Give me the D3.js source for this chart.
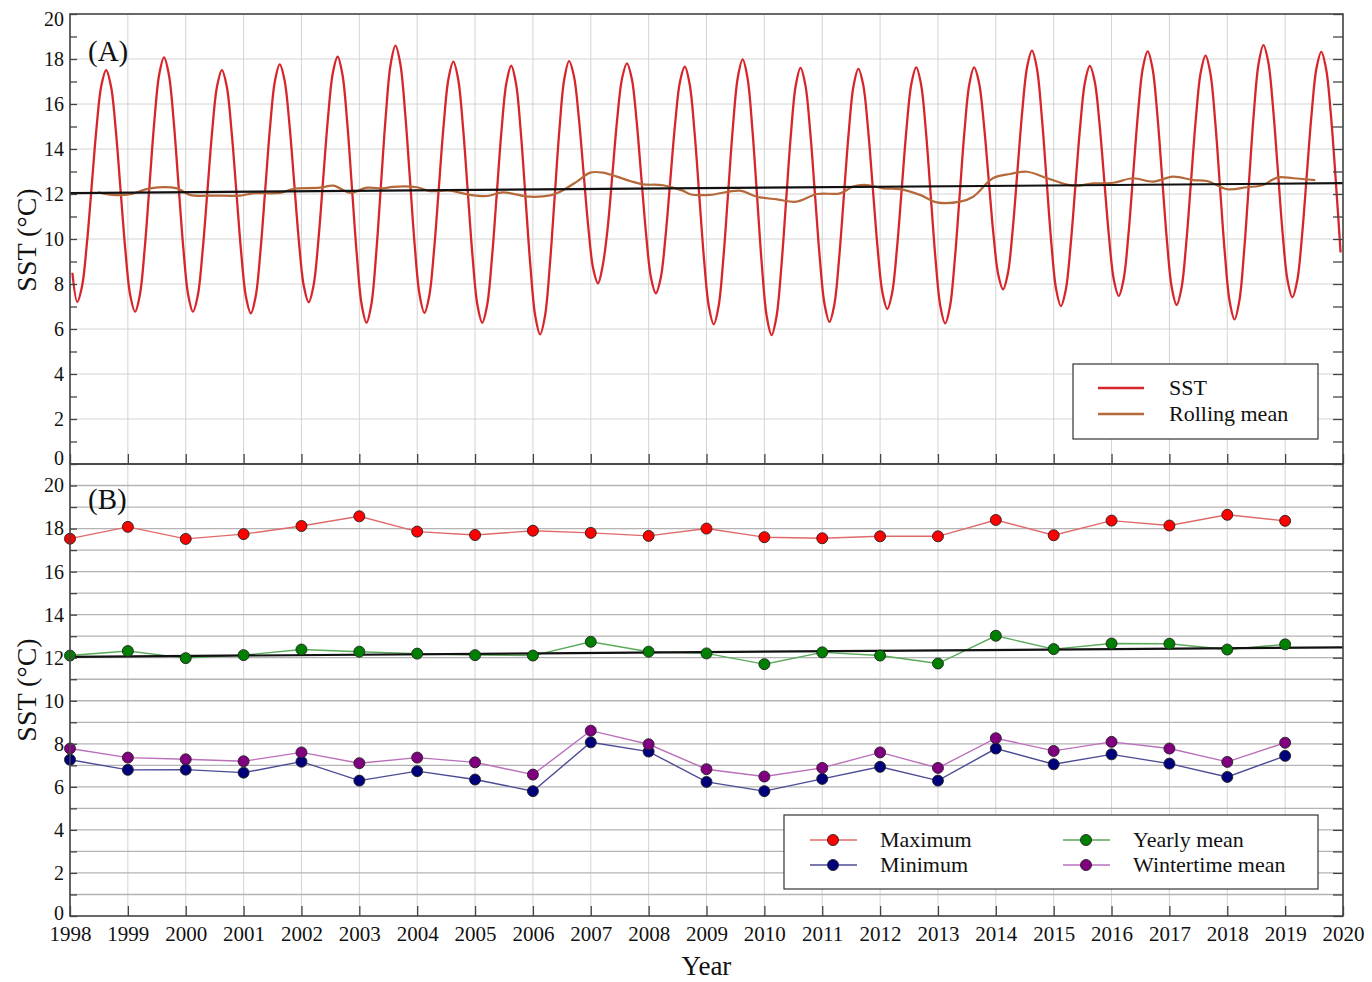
<!DOCTYPE html>
<html>
<head>
<meta charset="utf-8">
<script src="https://cdn.jsdelivr.net/npm/d3@7"></script>
<style>
body { margin: 0; background: #fff; }
text { font-family: "Liberation Serif", "Times New Roman", serif; fill: #111; }
</style>
</head>
<body>
<div id="chart"></div>
<script>
// monthly SST (°C), one row per year 1998..2019, Jan..Dec
var sstMonthly = [
	[8.50, 7.21, 7.90, 9.79, 12.36, 14.94, 16.82, 17.51, 16.79, 14.83, 12.14, 9.46],
	[7.49, 6.77, 7.53, 9.60, 12.42, 15.25, 17.31, 18.07, 17.31, 15.25, 12.42, 9.60],
	[7.53, 6.77, 7.49, 9.46, 12.14, 14.83, 16.79, 17.51, 16.79, 14.81, 12.11, 9.40],
	[7.42, 6.70, 7.44, 9.47, 12.23, 15.00, 17.02, 17.76, 17.05, 15.12, 12.48, 9.83],
	[7.90, 7.19, 7.92, 9.92, 12.65, 15.37, 17.37, 18.10, 17.31, 15.15, 12.19, 9.24],
	[7.07, 6.28, 7.10, 9.36, 12.44, 15.51, 17.77, 18.59, 17.79, 15.62, 12.66, 9.69],
	[7.52, 6.72, 7.47, 9.51, 12.30, 15.09, 17.13, 17.88, 17.10, 14.98, 12.08, 9.18],
	[7.06, 6.28, 7.05, 9.14, 11.99, 14.85, 16.93, 17.70, 16.90, 14.72, 11.73, 8.75],
	[6.56, 5.76, 6.57, 8.80, 11.84, 14.87, 17.10, 17.91, 17.25, 15.44, 12.97, 10.50],
	[8.69, 8.03, 8.85, 10.48, 12.92, 15.37, 17.15, 17.81, 17.13, 15.26, 12.70, 10.15],
	[8.27, 7.59, 8.26, 10.11, 12.63, 15.14, 16.99, 17.66, 16.89, 14.80, 11.94, 9.07],
	[6.98, 6.21, 7.00, 9.15, 12.10, 15.04, 17.19, 17.98, 17.16, 14.92, 11.86, 8.79],
	[6.55, 5.73, 6.53, 8.70, 11.67, 14.64, 16.81, 17.61, 16.85, 14.79, 11.97, 9.14],
	[7.08, 6.32, 7.07, 9.13, 11.94, 14.75, 16.81, 17.56, 16.85, 14.89, 12.23, 9.56],
	[7.61, 6.89, 7.61, 9.58, 12.26, 14.95, 16.91, 17.63, 16.87, 14.79, 11.94, 9.10],
	[7.01, 6.25, 7.01, 9.10, 11.94, 14.79, 16.87, 17.63, 16.97, 15.16, 12.70, 10.23],
	[8.42, 7.76, 8.47, 10.41, 13.07, 15.72, 17.66, 18.37, 17.61, 15.53, 12.70, 9.86],
	[7.78, 7.02, 7.73, 9.69, 12.36, 15.02, 16.98, 17.69, 17.01, 15.14, 12.58, 10.03],
	[8.16, 7.47, 8.20, 10.19, 12.91, 15.62, 17.61, 18.34, 17.58, 15.52, 12.71, 9.89],
	[7.83, 7.07, 7.81, 9.84, 12.61, 15.38, 17.41, 18.15, 17.36, 15.22, 12.29, 9.36],
	[7.22, 6.43, 7.25, 9.48, 12.53, 15.57, 17.80, 18.62, 17.87, 15.82, 13.02, 10.21],
	[8.16, 7.41, 8.14, 10.14, 12.87, 15.59, 17.59, 18.32, 17.55, 15.50, 12.60, 9.40]
];

// 12-month rolling mean, read at irregular times (decimal year)
var rollTime = [1998.49, 1998.74, 1999.04, 1999.38, 1999.85, 2000.07, 2000.50, 2000.94, 2001.16, 2001.63,
	2001.85, 2002.32, 2002.55, 2002.84, 2003.13, 2003.41, 2003.58, 2004.00, 2004.22, 2004.57,
	2004.91, 2005.21, 2005.48, 2005.95, 2006.30, 2006.47, 2006.76, 2006.99, 2007.21, 2007.45,
	2007.68, 2007.90, 2008.25, 2008.59, 2008.72, 2009.06, 2009.58, 2009.87, 2010.22, 2010.56,
	2010.91, 2011.31, 2011.53, 2011.77, 2012.05, 2012.34, 2012.69, 2012.98, 2013.38, 2013.61,
	2013.95, 2014.25, 2014.54, 2014.89, 2015.33, 2015.68, 2016.03, 2016.37, 2016.72, 2017.06,
	2017.41, 2017.65, 2018.00, 2018.34, 2018.62, 2018.86, 2019.14, 2019.52];
var rollValue = [12.07, 11.96, 11.99, 12.25, 12.25, 11.96, 11.93, 11.93, 12.03, 12.05,
	12.22, 12.28, 12.37, 12.06, 12.28, 12.25, 12.32, 12.30, 12.13, 12.15,
	11.96, 11.91, 12.07, 11.88, 11.94, 12.10, 12.55, 12.95, 12.95, 12.77,
	12.58, 12.43, 12.39, 12.15, 11.99, 11.96, 12.15, 11.88, 11.76, 11.66,
	12.00, 12.03, 12.33, 12.40, 12.25, 12.22, 11.96, 11.63, 11.66, 11.88,
	12.70, 12.89, 12.99, 12.70, 12.37, 12.47, 12.50, 12.70, 12.55, 12.77,
	12.62, 12.58, 12.21, 12.30, 12.40, 12.73, 12.70, 12.62];

// yearly statistics 1998..2019
var years       = d3.range(1998, 2020);
var maxValues   = [17.53, 18.08, 17.52, 17.74, 18.12, 18.57, 17.86, 17.70, 17.90, 17.80, 17.66,
	18.00, 17.60, 17.55, 17.64, 17.64, 18.40, 17.69, 18.37, 18.14, 18.64, 18.36];
var minValues   = [7.26, 6.79, 6.80, 6.66, 7.17, 6.29, 6.73, 6.34, 5.80, 8.07, 7.64,
	6.23, 5.80, 6.37, 6.93, 6.29, 7.78, 7.05, 7.51, 7.08, 6.46, 7.44];
var meanValues  = [12.10, 12.31, 11.98, 12.12, 12.38, 12.28, 12.19, 12.12, 12.10, 12.74, 12.28,
	12.20, 11.70, 12.25, 12.10, 11.73, 13.02, 12.40, 12.66, 12.65, 12.38, 12.62];
var winterValues = [7.78, 7.36, 7.28, 7.19, 7.60, 7.10, 7.36, 7.14, 6.57, 8.61, 7.98,
	6.82, 6.48, 6.88, 7.60, 6.88, 8.26, 7.67, 8.09, 7.78, 7.16, 8.05];

// linear trend, value at 1998 and 2020
var trendYears  = [1998, 2020];
var trendValues = [12.04, 12.48];

var xTickYears = d3.range(1998, 2021);
var yLabelTicks = d3.range(0, 21, 2);

var W = 1372, H = 982;
var plotL = 70, plotR = 1343;
var panelA = {top: 14, bottom: 464};
var panelB = {top: 464, bottom: 916};

var svg = d3.select('#chart').append('svg')
	.attr('width', W)
	.attr('height', H);

var x  = d3.scaleLinear().domain([1998, 2020]).range([plotL, plotR]);
var yA = d3.scaleLinear().domain([0, 20]).range([panelA.bottom, panelA.top]);
var yB = d3.scaleLinear().domain([0, 21]).range([panelB.bottom, panelB.top]);

var sstPoints = [];
sstMonthly.forEach(function(row, i) {
	row.forEach(function(v, m) {
		sstPoints.push({t: years[i] + (m + 0.5) / 12, v: v});
	});
});
var rollPoints = rollTime.map(function(t, i) { return {t: t, v: rollValue[i]}; });

function drawGrid(y, hValues, hColor, hWidth) {
	var g = svg.append('g').attr('class', 'grid');
	g.selectAll('.vgrid')
		.data(xTickYears)
		.enter().append('line')
		.attr('x1', function(d) { return x(d); })
		.attr('x2', function(d) { return x(d); })
		.attr('y1', y.range()[0])
		.attr('y2', y.range()[1])
		.attr('stroke', '#d4d4d4')
		.attr('stroke-width', 1);
	g.selectAll('.hgrid')
		.data(hValues)
		.enter().append('line')
		.attr('x1', plotL)
		.attr('x2', plotR)
		.attr('y1', function(d) { return y(d); })
		.attr('y2', function(d) { return y(d); })
		.attr('stroke', hColor)
		.attr('stroke-width', hWidth);
}

function drawFrame(y, bottom, labelShift) {
	// inward minor ticks on left / right / bottom
	svg.append('g')
		.attr('transform', 'translate(' + plotL + ',0)')
		.call(d3.axisRight(y).tickValues(d3.range(0, 21)).tickSize(7).tickFormat(''))
		.call(function(g) { g.select('.domain').remove(); });
	svg.append('g')
		.attr('transform', 'translate(' + plotR + ',0)')
		.call(d3.axisLeft(y).tickValues(d3.range(0, 21)).tickSize(10).tickFormat(''))
		.call(function(g) { g.select('.domain').remove(); });
	svg.append('g')
		.attr('transform', 'translate(0,' + bottom + ')')
		.call(d3.axisTop(x).tickValues(xTickYears).tickSize(10).tickFormat(''))
		.call(function(g) { g.select('.domain').remove(); });
	svg.selectAll('.tick line').attr('stroke', '#444').attr('stroke-width', 1.3);

	var lab = svg.append('g')
		.attr('transform', 'translate(' + plotL + ',0)')
		.call(d3.axisLeft(y).tickValues(yLabelTicks).tickSize(0).tickPadding(6).tickFormat(d3.format('d')));
	lab.select('.domain').remove();
	lab.selectAll('text')
		.style('font-size', '20px')
		.attr('font-family', null)
		.attr('dy', function(d) { return labelShift && labelShift[d] ? (0.32 + labelShift[d] / 20) + 'em' : '0.32em'; });

	svg.append('rect')
		.attr('x', plotL)
		.attr('y', y.range()[1])
		.attr('width', plotR - plotL)
		.attr('height', y.range()[0] - y.range()[1])
		.attr('fill', 'none')
		.attr('stroke', '#444')
		.attr('stroke-width', 1.6);
}

// ---------- panel A ----------
drawGrid(yA, d3.range(2, 20, 2), '#d4d4d4', 1);

var lineA = d3.line()
	.x(function(d) { return x(d.t); })
	.y(function(d) { return yA(d.v); })
	.curve(d3.curveCatmullRom);

svg.append('path')
	.datum(sstPoints)
	.attr('d', lineA)
	.attr('fill', 'none')
	.attr('stroke', '#d7262b')
	.attr('stroke-width', 2.3);

svg.append('path')
	.datum(rollPoints)
	.attr('d', lineA)
	.attr('fill', 'none')
	.attr('stroke', '#b5683a')
	.attr('stroke-width', 2.2);

svg.append('line')
	.attr('x1', x(trendYears[0])).attr('x2', x(trendYears[1]))
	.attr('y1', yA(trendValues[0])).attr('y2', yA(trendValues[1]))
	.attr('stroke', '#111')
	.attr('stroke-width', 2.2);

drawFrame(yA, panelA.bottom, {20: 5, 0: -6});

svg.append('text')
	.attr('x', 88).attr('y', 61)
	.style('font-size', '29px')
	.text('(A)');

// legend A
var legA = svg.append('g');
legA.append('rect')
	.attr('x', 1073).attr('y', 364).attr('width', 245).attr('height', 75)
	.attr('fill', '#fff').attr('stroke', '#333').attr('stroke-width', 1.2);
[{label: 'SST', color: '#d7262b'}, {label: 'Rolling mean', color: '#b5683a'}].forEach(function(d, i) {
	var yy = 388 + i * 26;
	legA.append('line')
		.attr('x1', 1098).attr('x2', 1144).attr('y1', yy).attr('y2', yy)
		.attr('stroke', d.color).attr('stroke-width', 2.3);
	legA.append('text')
		.attr('x', 1169).attr('y', yy + 7)
		.style('font-size', '22px')
		.text(d.label);
});

// ---------- panel B ----------
drawGrid(yB, d3.range(1, 21), '#b4b4b4', 1.3);

var series = [
	{label: 'Maximum',         values: maxValues,    line: '#e06a6a', fill: '#ff0000'},
	{label: 'Minimum',         values: minValues,    line: '#4b4b95', fill: '#00007a'},
	{label: 'Yearly mean',     values: meanValues,   line: '#5aaa5a', fill: '#008000'},
	{label: 'Wintertime mean', values: winterValues, line: '#bb6fbb', fill: '#800080'}
];

var lineB = d3.line()
	.x(function(d) { return x(d.t); })
	.y(function(d) { return yB(d.v); });

series.forEach(function(s) {
	var pts = years.map(function(yr, i) { return {t: yr, v: s.values[i]}; });
	svg.append('path')
		.datum(pts)
		.attr('d', lineB)
		.attr('fill', 'none')
		.attr('stroke', s.line)
		.attr('stroke-width', 1.4);
	s.pts = pts;
});

svg.append('line')
	.attr('x1', x(trendYears[0])).attr('x2', x(trendYears[1]))
	.attr('y1', yB(trendValues[0])).attr('y2', yB(trendValues[1]))
	.attr('stroke', '#111')
	.attr('stroke-width', 2.2);

series.forEach(function(s) {
	svg.append('g').selectAll('circle')
		.data(s.pts)
		.enter().append('circle')
		.attr('cx', function(d) { return x(d.t); })
		.attr('cy', function(d) { return yB(d.v); })
		.attr('r', 5.5)
		.attr('fill', s.fill)
		.attr('stroke', '#222')
		.attr('stroke-width', 0.9);
});

drawFrame(yB, panelB.bottom, {0: -3});

svg.append('text')
	.attr('x', 88).attr('y', 509)
	.style('font-size', '29px')
	.text('(B)');

// x axis labels
var xLab = svg.append('g')
	.attr('transform', 'translate(0,' + panelB.bottom + ')')
	.call(d3.axisBottom(x).tickValues(xTickYears).tickSize(0).tickPadding(10).tickFormat(d3.format('d')));
xLab.select('.domain').remove();
xLab.selectAll('text').style('font-size', '21px').attr('font-family', null);

// legend B
var legB = svg.append('g');
legB.append('rect')
	.attr('x', 784).attr('y', 815).attr('width', 534).attr('height', 74)
	.attr('fill', '#fff').attr('stroke', '#333').attr('stroke-width', 1.2);
var legPos = [{x: 810, y: 840}, {x: 810, y: 865}, {x: 1063, y: 840}, {x: 1063, y: 865}];
series.forEach(function(s, i) {
	var p = legPos[i];
	legB.append('line')
		.attr('x1', p.x).attr('x2', p.x + 47).attr('y1', p.y).attr('y2', p.y)
		.attr('stroke', s.line).attr('stroke-width', 1.4);
	legB.append('circle')
		.attr('cx', p.x + 23).attr('cy', p.y).attr('r', 5.5)
		.attr('fill', s.fill).attr('stroke', '#222').attr('stroke-width', 0.9);
	legB.append('text')
		.attr('x', p.x + 70).attr('y', p.y + 7)
		.style('font-size', '22px')
		.text(s.label);
});

// axis titles
[240, 690].forEach(function(cy) {
	svg.append('text')
		.attr('transform', 'translate(36,' + cy + ') rotate(-90)')
		.attr('text-anchor', 'middle')
		.style('font-size', '28px')
		.text('SST (°C)');
});
svg.append('text')
	.attr('x', (plotL + plotR) / 2).attr('y', 975)
	.attr('text-anchor', 'middle')
	.style('font-size', '27px')
	.text('Year');
</script>
</body>
</html>
